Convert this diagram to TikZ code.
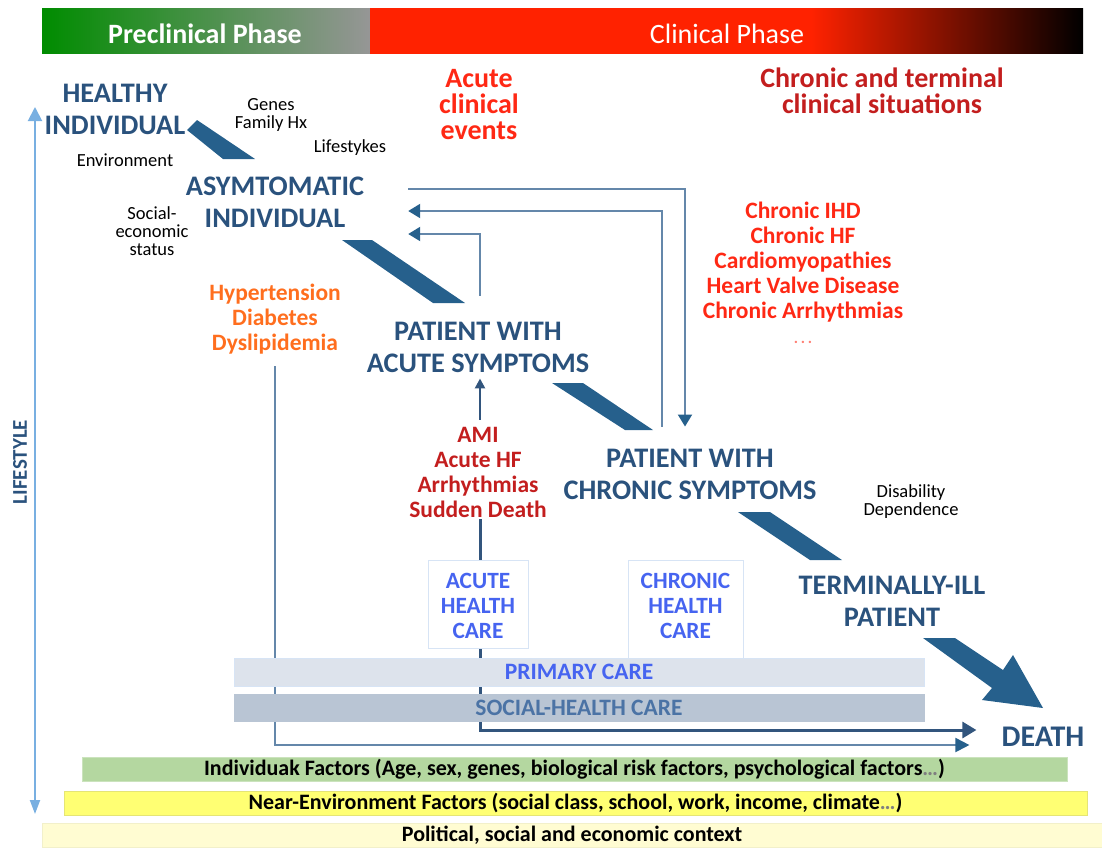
\documentclass[tikz,border=0pt]{standalone}
\usepackage{fontspec}
\setmainfont{Carlito}
\usetikzlibrary{arrows.meta}
\pgfdeclarelayer{bg}
\pgfsetlayers{bg,main}
\definecolor{tblue}{RGB}{42,82,125}
\definecolor{bandblue}{RGB}{38,96,140}
\definecolor{lineblue}{RGB}{100,135,170}
\definecolor{darkline}{RGB}{50,85,125}
\definecolor{brightred}{RGB}{255,40,20}
\definecolor{darkred}{RGB}{195,30,30}
\definecolor{orng}{RGB}{255,110,30}
\definecolor{careblue}{RGB}{70,100,240}
\definecolor{socblue}{RGB}{75,115,165}
\definecolor{boxedge}{RGB}{215,228,245}
\definecolor{primfill}{RGB}{221,227,236}
\definecolor{socfill}{RGB}{185,197,212}
\definecolor{indfill}{RGB}{180,215,160}
\definecolor{nearfill}{RGB}{255,255,115}
\definecolor{polfill}{RGB}{255,252,210}
\definecolor{lifeblue}{RGB}{120,175,225}
\definecolor{gstart}{RGB}{0,140,0}
\definecolor{gend}{RGB}{150,150,150}
\definecolor{rphase}{RGB}{255,34,0}
\pgfdeclarehorizontalshading{clinshade}{100bp}{color(0bp)=(rphase); color(25bp)=(rphase); color(55.9bp)=(rphase); color(75bp)=(black); color(100bp)=(black)}
\pgfdeclarehorizontalshading{preshade}{100bp}{color(0bp)=(gstart); color(25bp)=(gstart); color(75bp)=(gend); color(100bp)=(gend)}
\tikzset{
  mainlbl/.style={font=\bfseries\fontsize{28.3}{32}\selectfont, text=tblue, align=center, inner sep=0},
  smalltxt/.style={font=\fontsize{18.5}{18}\selectfont, align=center, inner sep=0},
  bigred/.style={font=\bfseries\fontsize{28}{26}\selectfont, align=center, inner sep=0},
  redlist/.style={font=\bfseries\fontsize{23.5}{25}\selectfont, align=center, inner sep=0},
  carebox/.style={draw=boxedge, fill=white, line width=1, inner sep=0},
  caretext/.style={font=\bfseries\fontsize{23.3}{25}\selectfont, text=careblue, align=center, inner sep=0},
  barbox/.style={line width=1, inner sep=0, font=\bfseries\fontsize{23.5}{25}\selectfont},
  factbar/.style={line width=1, inner sep=0, font=\bfseries\fontsize{22}{22}\selectfont},
  band/.style={fill=bandblue},
  conn/.style={draw=lineblue, line width=2, -{Triangle[length=12pt,width=14pt,color=bandblue]}},
  upconn/.style={draw=darkline, line width=2.5, -{Triangle[length=10pt,width=10pt,color=darkline]}},
  deathline/.style={draw=darkline, line width=3, -{Triangle[length=14pt,width=16pt,color=darkline]}},
  hypline/.style={draw=lineblue, line width=2, -{Triangle[length=14pt,width=14pt,color=bandblue]}},
  lifearrow/.style={draw=lifeblue, line width=2, {Triangle[length=14pt,width=14pt]}-{Triangle[length=14pt,width=10pt]}},
}
\begin{document}
\begin{tikzpicture}[x=1pt,y=1pt]
\useasboundingbox (0,0) rectangle (1102,-847);
% top phase bar
\shade[shading=preshade] (42,-8) rectangle (370,-53);
\shade[shading=clinshade] (370,-8) rectangle (1083,-53);
\node[font=\bfseries\fontsize{28}{28}\selectfont, text=white, inner sep=0] (pre) at (205,-34) {Preclinical Phase};
\node[font=\fontsize{28}{28}\selectfont, text=white, inner sep=0] (clin) at (727,-34) {Clinical Phase};

% headings
\node[bigred, text=brightred] (acuteev) at (479,-105) {Acute\\clinical\\events};
\node[bigred, text=darkred] (chronter) at (882,-91) {Chronic and terminal\\clinical situations};

% main states
\node[mainlbl] (healthy) at (115,-109) {HEALTHY\\INDIVIDUAL};
\node[mainlbl, minimum width=266] (asym) at (275,-202) {ASYMTOMATIC\\INDIVIDUAL};
\node[mainlbl] (acute) at (478,-347) {PATIENT WITH\\ACUTE SYMPTOMS};
\node[mainlbl] (chronic) at (690,-474) {PATIENT WITH\\CHRONIC SYMPTOMS};
\node[mainlbl] (terminal) at (892,-601) {TERMINALLY-ILL\\PATIENT};
\node[font=\bfseries\fontsize{30}{32}\selectfont, text=tblue, inner sep=0] (death) at (1043,-737) {DEATH};

% small factor texts
\node[smalltxt] (genes) at (271,-115) {Genes\\Family Hx};
\node[smalltxt] (lifestykes) at (350,-148) {Lifestykes};
\node[smalltxt] (environment) at (125,-160) {Environment};
\node[smalltxt] (social) at (152,-231) {Social-\\economic\\status};
\node[smalltxt] (disab) at (911,-502) {Disability\\Dependence};

% red / orange lists
\node[redlist, text=orng] (hyp) at (275,-319) {Hypertension\\Diabetes\\Dyslipidemia};
\node[redlist, text=brightred] (chrlist) at (803,-273) {Chronic IHD\\Chronic HF\\Cardiomyopathies\\Heart Valve Disease\\Chronic Arrhythmias\\{\color{brightred!60}\fontsize{16}{25}\selectfont .\,.\,.}};
\node[redlist, text=darkred] (ami) at (478,-472) {AMI\\Acute HF\\Arrhythmias\\Sudden Death};

% lifestyle
\node[font=\bfseries\fontsize{21}{22}\selectfont, text=tblue, rotate=90, inner sep=0] (lifestyle) at (20,-462) {LIFESTYLE};
\coordinate (lsTop) at (35,-107);
\coordinate (lsBot) at (35,-814);
\draw[lifearrow] (lsTop) -- (lsBot);

% care boxes and bars
\node[carebox, minimum width=100, minimum height=88] (acutebox) at (478,-604) {};
\node[caretext] (acutetext) at (478,-606) {ACUTE\\HEALTH\\CARE};
\node[carebox, minimum width=115, minimum height=100] (chronicbox) at (685.5,-610) {};
\node[caretext] (chronictext) at (685.5,-606) {CHRONIC\\HEALTH\\CARE};
\node[barbox, draw=boxedge, fill=primfill, text=careblue, minimum width=690, minimum height=28] (primary) at (579,-672) {PRIMARY CARE};
\node[barbox, draw=socfill, fill=socfill, text=socblue, minimum width=690, minimum height=27] (socialcare) at (579,-707.5) {SOCIAL-HEALTH CARE};
\node[factbar, draw=indfill!70!white, fill=indfill, minimum width=985, minimum height=24] (indiv) at (574.5,-769) {Individuak Factors (Age, sex, genes, biological risk factors, psychological factors{\color{gray}…})};
\node[factbar, draw=nearfill!80!gray, fill=nearfill, minimum width=1023, minimum height=24] (near) at (575.5,-803) {Near-Environment Factors (social class, school, work, income, climate{\color{gray}…})};
\node[factbar, draw=polfill!90!gray, fill=polfill, minimum width=1060, minimum height=24] (polit) at (572,-835) {Political, social and economic context};

% thick band arrows
\fill[band] (187,-130) -- (197,-120) -- (255,-159) -- (223,-159) -- cycle;
\fill[band] (342,-240) -- (372,-240) -- (465,-303) -- (433,-303) -- cycle;
\fill[band] (552,-383) -- (583,-383) -- (653,-430) -- (625,-430) -- cycle;
\fill[band] (738,-512) -- (770,-512) -- (842,-560) -- (810,-560) -- cycle;
\fill[band] (923,-638) -- (955,-638) -- (1003,-670) -- (1013,-655) -- (1043,-708) -- (982,-700) -- (992,-688) -- cycle;

% thin connectors
\draw[conn] ([yshift=13]asym.east) -| ([xshift=-5,yshift=22]chronic.north);
\draw[conn] ([xshift=-28,yshift=22]chronic.north) |- ([yshift=-9]asym.east);
\draw[conn] ([xshift=2,yshift=26]acute.north) |- ([yshift=-32]asym.east);
\draw[upconn] ([xshift=2,yshift=7]ami.north) -- ([xshift=2,yshift=-6]acute.south);
\begin{pgfonlayer}{bg}
\draw[deathline] ([xshift=2,yshift=-2]ami.south) |- ([xshift=-25,yshift=7]death.west);
\draw[hypline] ([yshift=-12]hyp.south) |- ([xshift=-32,yshift=-8]death.west);
\end{pgfonlayer}
\end{tikzpicture}
\end{document}
